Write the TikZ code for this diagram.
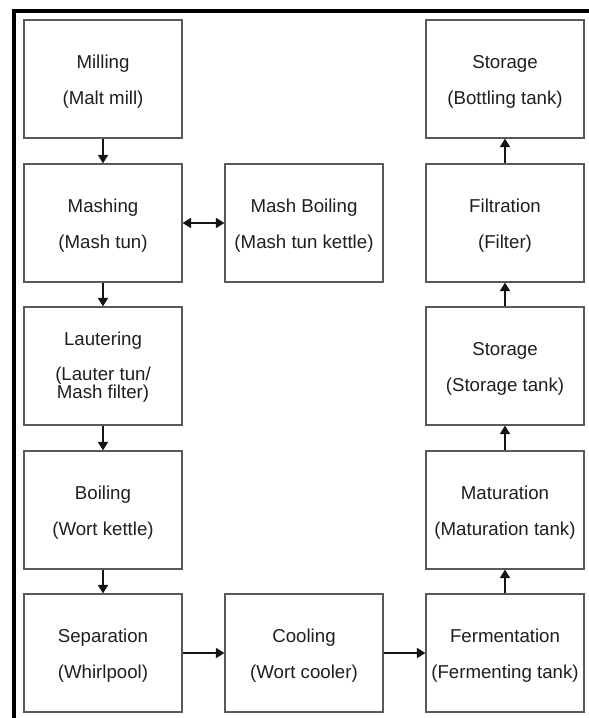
\documentclass[tikz,border=0pt]{standalone}
\usepackage{fontspec}
\setmainfont{Liberation Sans}
\usetikzlibrary{arrows.meta,calc}
\begin{document}
\begin{tikzpicture}[x=0.75pt,y=-0.75pt,
  stage/.style={draw=black!65, line width=0.8pt, minimum width=118.5pt,
    minimum height=88.5pt, inner sep=0pt},
  txt/.style={anchor=base, inner sep=0pt, text=black!88,
    font=\fontsize{14}{16}\selectfont},
  flow/.style={-{Triangle[length=6.5pt,width=7.5pt]}, line width=2pt, draw=black!92},
  both/.style={{Triangle[length=6.5pt,width=7.5pt]}-{Triangle[length=6.5pt,width=7.5pt]},
    line width=2pt, draw=black!92},
  frame/.style={line width=2.6pt, line join=miter, draw=black}
]
\useasboundingbox (0,0) rectangle (589,718);
\fill[white] (0,0) rectangle (589,718);

% outer frame (left and top edges)
\draw[frame] (14,730) -- (14,11) -- (600,11);

% left column
\node[stage] (mill)  at (103,79)  {};
\node[stage] (mash)  at (103,223) {};
\node[stage] (laut)  at (103,366) {};
\node[stage] (boil)  at (103,510) {};
\node[stage] (sep)   at (103,653) {};
% middle column
\node[stage] (mboil) at (304,223) {};
\node[stage] (cool)  at (304,653) {};
% right column
\node[stage] (bott)  at (505,79)  {};
\node[stage] (filt)  at (505,223) {};
\node[stage] (stor)  at (505,366) {};
\node[stage] (mat)   at (505,510) {};
\node[stage] (ferm)  at (505,653) {};

% labels
\node[txt] at ($(mill.north)+(0,49)$) {Milling};
\node[txt] at ($(mill.north)+(0,85)$) {(Malt mill)};
\node[txt] at ($(mash.north)+(0,49)$) {Mashing};
\node[txt] at ($(mash.north)+(0,85)$) {(Mash tun)};
\node[txt] at ($(laut.north)+(0,39)$) {Lautering};
\node[txt] at ($(laut.north)+(0,74)$) {(Lauter tun/};
\node[txt] at ($(laut.north)+(0,92)$) {Mash filter)};
\node[txt] at ($(boil.north)+(0,49)$) {Boiling};
\node[txt] at ($(boil.north)+(0,85)$) {(Wort kettle)};
\node[txt] at ($(sep.north)+(0,49)$) {Separation};
\node[txt] at ($(sep.north)+(0,85)$) {(Whirlpool)};
\node[txt] at ($(mboil.north)+(0,49)$) {Mash Boiling};
\node[txt] at ($(mboil.north)+(0,85)$) {(Mash tun kettle)};
\node[txt] at ($(cool.north)+(0,49)$) {Cooling};
\node[txt] at ($(cool.north)+(0,85)$) {(Wort cooler)};
\node[txt] at ($(bott.north)+(0,49)$) {Storage};
\node[txt] at ($(bott.north)+(0,85)$) {(Bottling tank)};
\node[txt] at ($(filt.north)+(0,49)$) {Filtration};
\node[txt] at ($(filt.north)+(0,85)$) {(Filter)};
\node[txt] at ($(stor.north)+(0,49)$) {Storage};
\node[txt] at ($(stor.north)+(0,85)$) {(Storage tank)};
\node[txt] at ($(mat.north)+(0,49)$) {Maturation};
\node[txt] at ($(mat.north)+(0,85)$) {(Maturation tank)};
\node[txt] at ($(ferm.north)+(0,49)$) {Fermentation};
\node[txt] at ($(ferm.north)+(0,85)$) {(Fermenting tank)};

% process flow
\draw[flow] (mill) -- (mash);
\draw[flow] (mash) -- (laut);
\draw[flow] (laut) -- (boil);
\draw[flow] (boil) -- (sep);
\draw[both] (mash) -- (mboil);
\draw[flow] (sep) -- (cool);
\draw[flow] (cool) -- (ferm);
\draw[flow] (ferm) -- (mat);
\draw[flow] (mat) -- (stor);
\draw[flow] (stor) -- (filt);
\draw[flow] (filt) -- (bott);
\end{tikzpicture}
\end{document}
